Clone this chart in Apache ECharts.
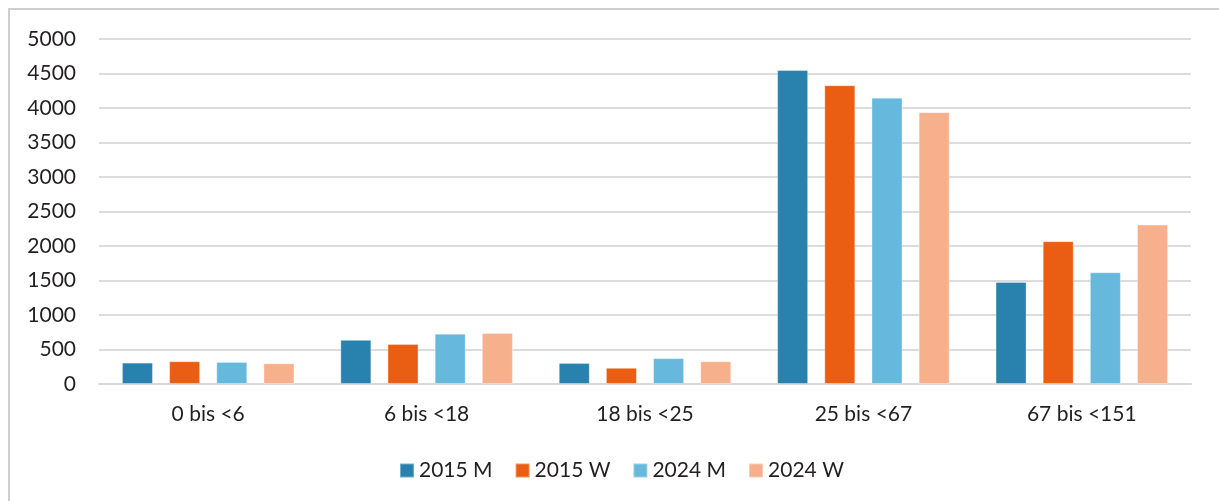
<!DOCTYPE html>
<html>
<head>
<meta charset="utf-8">
<script src="https://cdn.jsdelivr.net/npm/echarts@6/dist/echarts.min.js"></script>
<style>
html,body{margin:0;padding:0;background:#fff;}
#chart{width:1219px;height:501px;}
</style>
</head>
<body>
<div id="chart"></div>
<script>
const categories = ['0 bis <6', '6 bis <18', '18 bis <25', '25 bis <67', '67 bis <151'];
const seriesNames = ['2015 M', '2015 W', '2024 M', '2024 W'];
const m2015 = [310, 640, 305, 4550, 1480];
const w2015 = [330, 580, 235, 4330, 2070];
const m2024 = [320, 730, 375, 4150, 1620];
const w2024 = [300, 740, 330, 3940, 2310];
const yTicks = [0, 500, 1000, 1500, 2000, 2500, 3000, 3500, 4000, 4500, 5000];

const colors = ['#2882AD', '#E95E12', '#67B8DD', '#F7B08C'];
const values = [m2015, w2015, m2024, w2024];
const fontFamily = 'Lato, "Noto Sans", sans-serif';

const chart = echarts.init(document.getElementById('chart'), null, {renderer: 'canvas'});
chart.setOption({
  animation: false,
  color: colors,
  textStyle: {fontFamily: fontFamily},
  graphic: [{
    type: 'rect',
    shape: {x: 9, y: 9, width: 1240, height: 520},
    style: {fill: 'none', stroke: '#cfcfcf', lineWidth: 2},
    silent: true
  }],
  grid: {left: 99, right: 28, top: 39, bottom: 117, containLabel: false},
  legend: {
    data: seriesNames,
    left: 394,
    top: 455,
    itemWidth: 14,
    itemHeight: 14,
    itemGap: 22,
    icon: 'rect',
    textStyle: {fontSize: 21, color: '#231f20', fontFamily: fontFamily}
  },
  xAxis: {
    type: 'category',
    data: categories,
    axisLine: {show: true, lineStyle: {color: '#d9d9d9', width: 2}},
    axisTick: {show: false},
    axisLabel: {fontSize: 21, color: '#231f20', margin: 20}
  },
  yAxis: {
    type: 'value',
    min: 0,
    max: 5000,
    interval: 500,
    axisLine: {show: false},
    axisTick: {show: false},
    splitLine: {lineStyle: {color: '#dcdcdc', width: 2}},
    axisLabel: {
      fontSize: 21, color: '#231f20', margin: 23,
      formatter: function (v) { return yTicks.indexOf(v) >= 0 ? String(v) : ''; }
    }
  },
  series: seriesNames.map(function (name, i) {
    return {
      name: name,
      type: 'bar',
      data: values[i],
      barGap: '52%',
      barCategoryGap: '21%',
      itemStyle: {color: colors[i], borderColor: 'rgba(255,255,255,0.35)', borderWidth: 1}
    };
  })
});
</script>
</body>
</html>
